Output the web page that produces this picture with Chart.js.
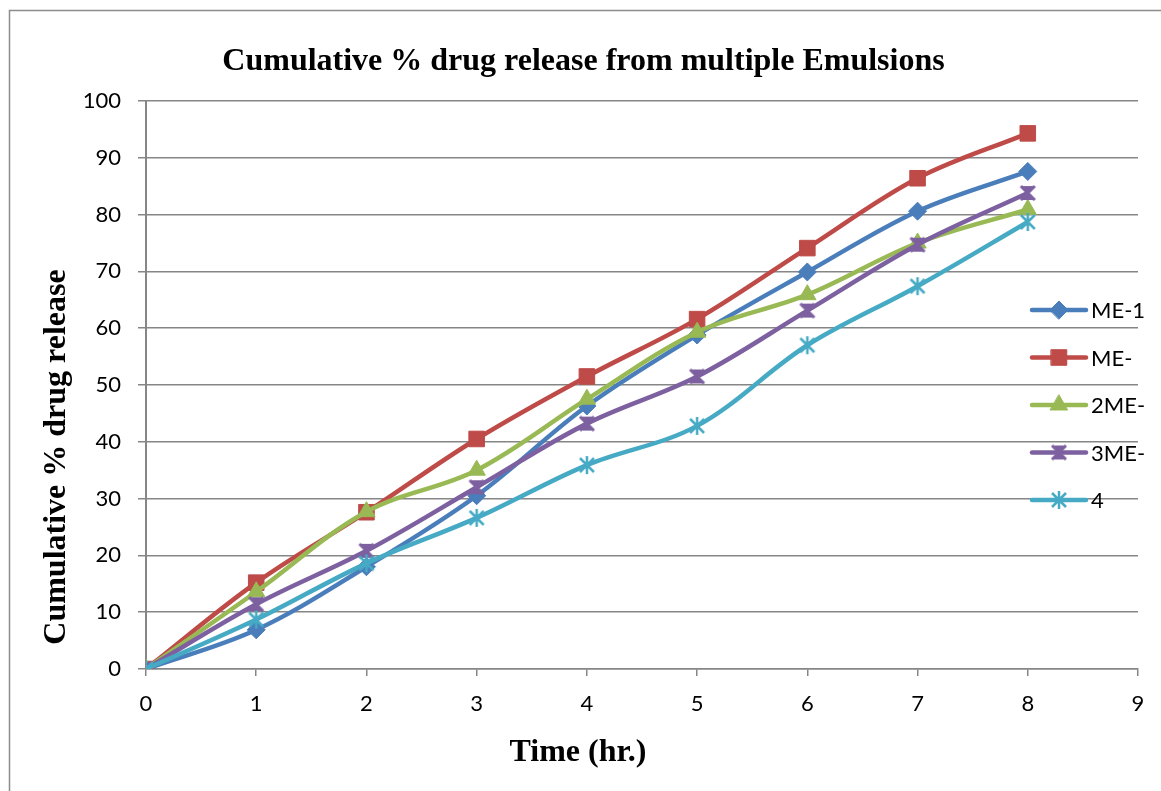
<!DOCTYPE html>
<html>
<head>
<meta charset="utf-8">
<script src="https://cdn.jsdelivr.net/npm/chart.js@4/dist/chart.umd.min.js"></script>
<style>
html,body{margin:0;padding:0;background:#fff;}
#wrap{position:relative;width:1161px;height:791px;}
</style>
</head>
<body>
<div id="wrap"><canvas id="c" width="1161" height="791"></canvas></div>
<script>
// ---- data ----
const times = [0, 1, 2, 3, 4, 5, 6, 7, 8];
const seriesNames = ["ME-1", "ME-", "2ME-", "3ME-", "4"];
const me1 = [0, 6.9, 18.0, 30.5, 46.3, 58.8, 69.9, 80.6, 87.6];
const me  = [0, 15.2, 27.6, 40.5, 51.5, 61.6, 74.1, 86.4, 94.3];
const me2 = [0, 13.6, 27.7, 35.0, 47.5, 59.3, 65.9, 75.0, 80.9];
const me3 = [0, 11.4, 20.8, 32.0, 43.2, 51.5, 63.1, 74.7, 83.8];
const me4 = [0, 8.7, 18.6, 26.6, 35.9, 42.8, 57.0, 67.4, 78.7];
const yTicks = [0, 10, 20, 30, 40, 50, 60, 70, 80, 90, 100];
const xTicks = [0, 1, 2, 3, 4, 5, 6, 7, 8, 9];
const chartTitle = 'Cumulative % drug release from multiple Emulsions';
const xTitle = 'Time (hr.)';
const yTitle = 'Cumulative % drug release';

const colors = ["#4A7EBB", "#BE4B48", "#98B954", "#7D60A0", "#46AAC5"];
const serifBold = 'bold 32px "Liberation Serif", "Times New Roman", serif';

function makeMarker(kind, color) {
  const s = 20, c = document.createElement('canvas');
  c.width = s; c.height = s;
  const g = c.getContext('2d');
  g.fillStyle = color; g.strokeStyle = color;
  if (kind === 'hourglass') {
    g.beginPath();
    g.moveTo(3, 3); g.lineTo(17, 3); g.lineTo(10, 10); g.lineTo(17, 17);
    g.lineTo(3, 17); g.lineTo(10, 10); g.closePath(); g.fill();
    g.lineWidth = 3;
    g.beginPath(); g.moveTo(3, 3); g.lineTo(17, 17); g.moveTo(17, 3); g.lineTo(3, 17); g.stroke();
  } else {
    g.lineWidth = 2.5;
    g.beginPath();
    g.moveTo(3, 3); g.lineTo(17, 17);
    g.moveTo(17, 3); g.lineTo(3, 17);
    g.moveTo(10, 1); g.lineTo(10, 19);
    g.stroke();
  }
  return c;
}

const styles = ['rectRot', 'rect', 'triangle', makeMarker('hourglass', colors[3]), makeMarker('star', colors[4])];
const radii = [9, 11, 10, 10, 10];
const values = [me1, me, me2, me3, me4];

const datasets = values.map((v, i) => ({
  label: seriesNames[i],
  data: times.map((t, k) => ({x: t, y: v[k]})),
  borderColor: colors[i],
  backgroundColor: colors[i],
  borderWidth: 4.5,
  pointStyle: styles[i],
  pointRadius: radii[i],
  pointBorderWidth: 1,
  pointBorderColor: colors[i],
  pointBackgroundColor: colors[i],
  tension: 0.35,
  order: 5 - i
}));

const frame = {
  id: 'frame',
  beforeDraw(chart) {
    const ctx = chart.ctx;
    ctx.save();
    ctx.fillStyle = '#fff';
    ctx.fillRect(0, 0, chart.width, chart.height);
    ctx.strokeStyle = '#8c8c8c';
    ctx.lineWidth = 1.5;
    ctx.strokeRect(9.5, 10.5, 1300, 900);
    ctx.restore();
  }
};

const axisTitles = {
  id: 'axisTitles',
  afterDraw(chart) {
    const ctx = chart.ctx;
    ctx.save();
    ctx.fillStyle = '#000';
    ctx.font = serifBold;
    ctx.textAlign = 'center';
    ctx.textBaseline = 'middle';
    ctx.fillText(xTitle, 578, 753);
    ctx.translate(57, 457);
    ctx.rotate(-Math.PI / 2);
    ctx.fillText(yTitle, 0, 0);
    ctx.restore();
  }
};

const customLegend = {
  id: 'customLegend',
  afterDraw(chart) {
    const ctx = chart.ctx;
    ctx.save();
    const x0 = 1032, x1 = 1086, xm = 1059, xt = 1091;
    chart.data.datasets.forEach((ds, i) => {
      const y = 310 + i * 47.5;
      ctx.strokeStyle = ds.borderColor;
      ctx.lineWidth = 4.5;
      ctx.lineCap = 'round';
      ctx.beginPath(); ctx.moveTo(x0, y); ctx.lineTo(x1, y); ctx.stroke();
      ctx.fillStyle = ds.borderColor;
      ctx.lineWidth = 1;
      Chart.helpers.drawPoint(ctx, {
        pointStyle: ds.pointStyle, radius: ds.pointRadius, borderWidth: 1, rotation: 0
      }, xm, y);
      ctx.fillStyle = '#000';
      ctx.font = '22px Lato';
      ctx.textBaseline = 'middle';
      ctx.textAlign = 'left';
      ctx.fillText(ds.label, xt, y + 1);
    });
    ctx.restore();
  }
};

new Chart(document.getElementById('c'), {
  type: 'line',
  data: {datasets},
  plugins: [frame, axisTitles, customLegend],
  options: {
    responsive: false,
    animation: false,
    events: [],
    layout: {padding: {left: 29, right: 23, top: 0, bottom: 0}},
    plugins: {
      legend: {display: false},
      tooltip: {enabled: false},
      title: {
        display: true,
        text: chartTitle,
        color: '#000',
        font: {family: '"Liberation Serif", "Times New Roman", serif', size: 32, weight: 'bold'},
        padding: {top: 43, bottom: 19.6}
      }
    },
    scales: {
      x: {
        type: 'linear',
        min: 0, max: 9,
        afterBuildTicks(scale) { scale.ticks = xTicks.map(v => ({value: v})); },
        afterFit(scale) { scale.height = 122; },
        grid: {drawOnChartArea: false, drawTicks: true, tickLength: 7, color: '#868686', lineWidth: 1.5},
        border: {display: true, color: '#868686', width: 1.5},
        ticks: {color: '#000', font: {family: 'Lato', size: 22}, padding: 15, maxRotation: 0},
        title: {display: false}
      },
      y: {
        min: 0, max: 100,
        afterBuildTicks(scale) { scale.ticks = yTicks.map(v => ({value: v})); },
        afterFit(scale) { scale.width = 117; },
        grid: {drawOnChartArea: true, drawTicks: true, tickLength: 8, color: '#868686', lineWidth: 1.5},
        border: {display: true, color: '#868686', width: 2},
        ticks: {color: '#000', font: {family: 'Lato', size: 22}, padding: 17},
        title: {display: false}
      }
    }
  }
});
</script>
</body>
</html>
